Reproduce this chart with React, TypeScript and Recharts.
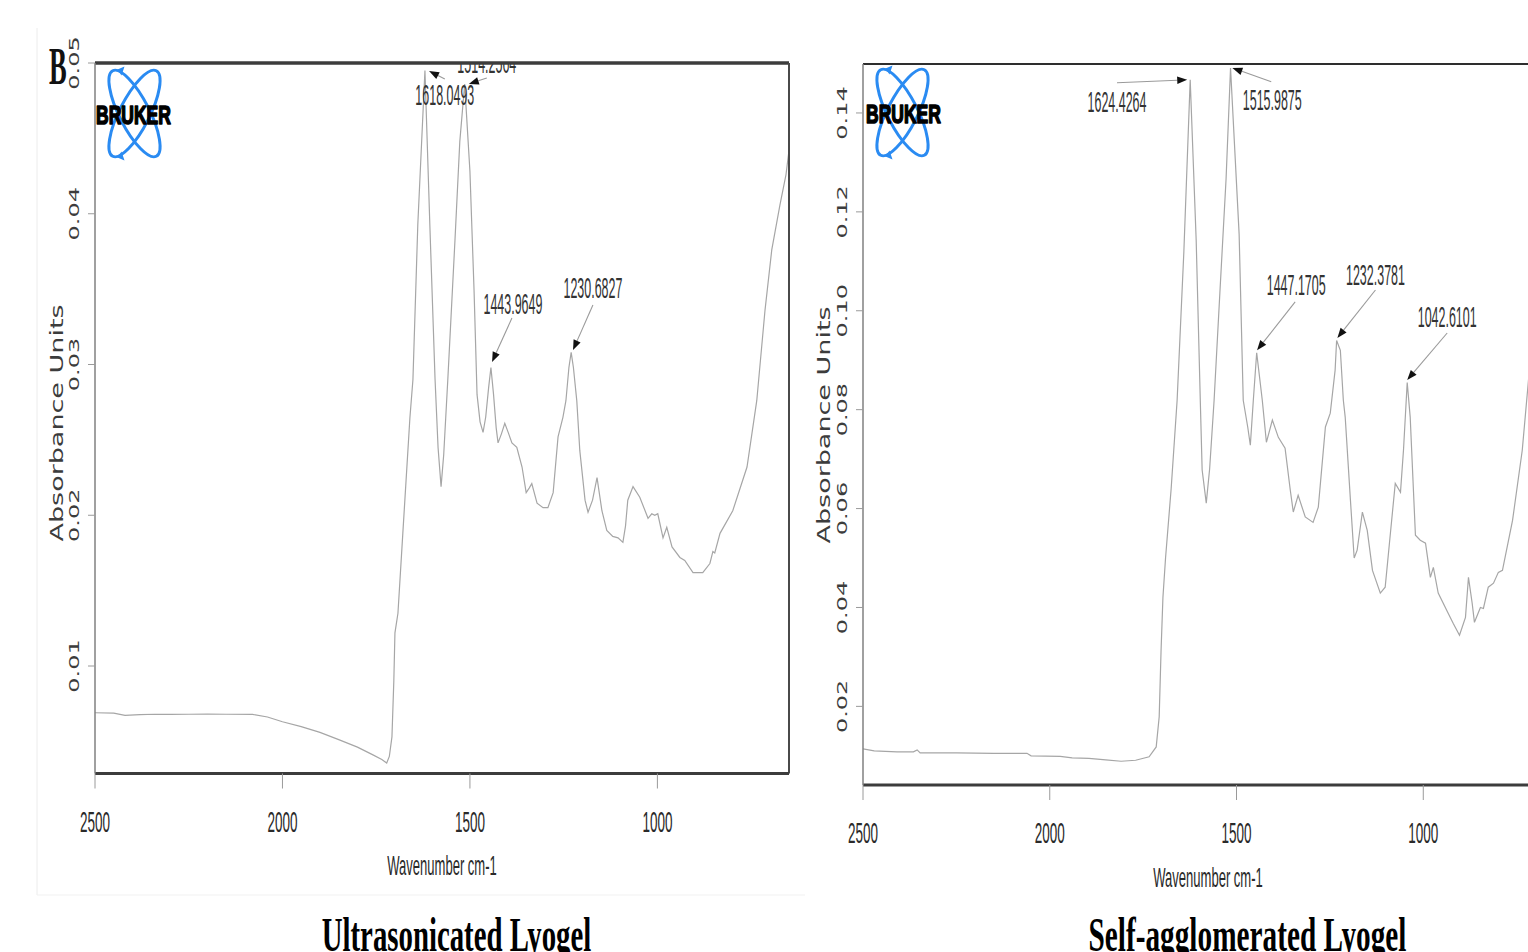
import React from 'react';
import { LineChart, Line, XAxis, YAxis, ReferenceLine } from 'recharts';

// ---------- Ultrasonicated Lyogel (left panel) ----------
const leftWavenumber = [2500, 2450, 2420, 2380, 2340, 2300, 2250, 2200, 2150, 2080, 2040, 2000, 1950, 1900, 1850, 1800, 1760, 1735, 1722, 1715, 1708, 1703, 1700, 1692, 1679, 1660, 1652, 1639, 1620, 1607, 1593, 1585, 1577, 1570, 1559, 1540, 1527, 1514, 1500, 1489, 1481, 1473, 1465, 1458, 1450, 1444, 1437, 1430, 1425, 1416, 1407, 1398, 1388, 1375, 1361, 1350, 1342, 1335, 1321, 1305, 1292, 1278, 1265, 1252, 1244, 1236, 1230, 1224, 1215, 1207, 1193, 1185, 1173, 1161, 1148, 1135, 1119, 1105, 1092, 1085, 1079, 1065, 1047, 1025, 1015, 1007, 999, 985, 975, 961, 940, 927, 905, 879, 860, 852, 847, 833, 799, 761, 735, 713, 695, 673, 657, 649];
const leftAbsorbance = [0.0069, 0.00688, 0.00672, 0.00678, 0.0068, 0.00679, 0.0068, 0.00681, 0.0068, 0.00679, 0.00662, 0.0063, 0.00598, 0.0056, 0.00512, 0.00462, 0.00412, 0.0038, 0.00357, 0.004, 0.0053, 0.009, 0.0122, 0.0135, 0.0188, 0.0265, 0.029, 0.0393, 0.0495, 0.0393, 0.029, 0.0245, 0.0219, 0.024, 0.029, 0.0382, 0.0448, 0.0486, 0.0428, 0.0349, 0.028, 0.0262, 0.0255, 0.0265, 0.0285, 0.0298, 0.028, 0.0258, 0.0248, 0.0254, 0.0261, 0.0255, 0.0248, 0.0245, 0.0232, 0.0215, 0.0218, 0.0221, 0.0208, 0.0205, 0.0205, 0.0215, 0.0252, 0.0265, 0.0276, 0.0298, 0.0308, 0.0298, 0.0276, 0.0243, 0.021, 0.0202, 0.021, 0.0225, 0.0203, 0.019, 0.0186, 0.0185, 0.0182, 0.0193, 0.021, 0.0219, 0.0212, 0.0198, 0.0201, 0.02, 0.0201, 0.0185, 0.0192, 0.0179, 0.0172, 0.017, 0.0162, 0.0162, 0.0168, 0.0176, 0.0175, 0.0188, 0.0203, 0.0232, 0.0276, 0.0336, 0.0376, 0.0406, 0.0426, 0.0442];

// ---------- Self-agglomerated Lyogel (right panel) ----------
const rightWavenumber = [2500, 2470, 2440, 2409, 2365, 2355, 2347, 2250, 2150, 2061, 2050, 1972, 1940, 1895, 1850, 1809, 1770, 1734, 1715, 1707, 1702, 1697, 1690, 1675, 1659, 1641, 1624, 1608, 1597, 1592, 1581, 1572, 1560, 1544, 1528, 1516, 1493, 1482, 1470, 1463, 1455, 1446, 1431, 1420, 1404, 1388, 1370, 1356, 1348, 1335, 1316, 1295, 1281, 1262, 1249, 1236, 1232, 1222, 1214, 1209, 1195, 1185, 1177, 1163, 1150, 1136, 1115, 1102, 1088, 1075, 1061, 1053, 1043, 1035, 1021, 1008, 994, 981, 973, 960, 933, 920, 903, 887, 879, 869, 863, 847, 839, 826, 812, 799, 788, 761, 735, 719, 700];
const rightAbsorbance = [0.0114, 0.011, 0.0109, 0.0108, 0.0108, 0.0112, 0.0106, 0.0106, 0.0105, 0.0105, 0.01, 0.0099, 0.0096, 0.0095, 0.0092, 0.0089, 0.0091, 0.0098, 0.0118, 0.0179, 0.0313, 0.042, 0.05, 0.064, 0.0819, 0.1119, 0.1467, 0.1143, 0.0819, 0.0678, 0.0611, 0.068, 0.0819, 0.1044, 0.1266, 0.1491, 0.1155, 0.0819, 0.0765, 0.0728, 0.0819, 0.0915, 0.0819, 0.0734, 0.0779, 0.0744, 0.0722, 0.0637, 0.0593, 0.0627, 0.0583, 0.0572, 0.0603, 0.0765, 0.0793, 0.088, 0.094, 0.092, 0.0819, 0.0785, 0.0617, 0.05, 0.0516, 0.0593, 0.0556, 0.0475, 0.0429, 0.0441, 0.055, 0.0651, 0.0633, 0.0718, 0.0855, 0.0785, 0.0546, 0.0536, 0.053, 0.0461, 0.0481, 0.0429, 0.0388, 0.0368, 0.0344, 0.038, 0.0461, 0.0408, 0.037, 0.04, 0.0398, 0.0441, 0.0449, 0.0471, 0.0475, 0.0576, 0.0718, 0.0854, 0.101];

// ---------- ticks ----------
const xTicks = [2500, 2000, 1500, 1000];
const leftYTicks = [0.01, 0.02, 0.03, 0.04, 0.05];
const rightYTicks = [0.02, 0.04, 0.06, 0.08, 0.1, 0.12, 0.14];

// ---------- peak annotations ----------
const leftPeakLabels = ['1618.0493', '1514.2564', '1443.9649', '1230.6827'];
const leftPeakTips = [{ x: 1609, y: 0.04947 }, { x: 1503, y: 0.04861 }, { x: 1441, y: 0.03017 }, { x: 1225, y: 0.03096 }];
const leftLabelAnchors = [{ x: 1567, y: 0.04894 }, { x: 1455, y: 0.049 }, { x: 1388, y: 0.03308 }, { x: 1172, y: 0.03395 }];

const rightPeakLabels = ['1624.4264', '1515.9875', '1447.1705', '1232.3781', '1042.6101'];
const rightPeakTips = [{ x: 1632, y: 0.1467 }, { x: 1511, y: 0.1491 }, { x: 1445, y: 0.092 }, { x: 1230, y: 0.0945 }, { x: 1043, y: 0.086 }];
const rightLabelAnchors = [{ x: 1820, y: 0.1461 }, { x: 1407, y: 0.1463 }, { x: 1343, y: 0.1018 }, { x: 1128, y: 0.1042 }, { x: 936, y: 0.0955 }];

// label text offsets (px) from the arrow tail
const leftLabelShift = [[0, 26], [0, -5], [1, -4], [0, -7]];
const rightLabelShift = [[0, 29], [1, 28], [1, -7], [0, -5], [0, -6]];

const zip = (w: number[], a: number[]) => w.map((wn, i) => ({ wn, a: a[i] }));
const leftData = zip(leftWavenumber, leftAbsorbance);
const rightData = zip(rightWavenumber, rightAbsorbance);

const SANS = "'Liberation Sans', Arial, sans-serif";
const SERIF = "'Liberation Serif', 'Times New Roman', serif";
const ROT = "'DejaVu Sans', sans-serif";

function XTick(props: any) {
  const { x, y, payload } = props;
  return (
    <text transform={`translate(${x},${y + 43}) scale(0.45,1)`} textAnchor="middle" fontFamily={SANS} fontSize={30} fill="#2a2a2a">
      {payload.value}
    </text>
  );
}

function YTick(props: any) {
  const { x, y, payload } = props;
  return (
    <text transform={`translate(${x - 7},${y}) rotate(-90) scale(1,0.6)`} textAnchor="middle" fontFamily={ROT} fontSize={24} fill="#3c3c3c">
      {Number(payload.value).toFixed(2)}
    </text>
  );
}

function arrowShape(label: string, dx: number, dy: number) {
  return (p: any) => {
    const { x1, y1, x2, y2, clipPath } = p;
    const ang = Math.atan2(y2 - y1, x2 - x1);
    const c = Math.cos(ang);
    const s = Math.sin(ang);
    const L = 10;
    const W = 3.8;
    const bx = x2 - L * c;
    const by = y2 - L * s;
    return (
      <g clipPath={clipPath}>
        <line x1={x1} y1={y1} x2={bx} y2={by} stroke="#9a9a9a" strokeWidth={1.1} />
        <polygon points={`${x2},${y2} ${bx - W * s},${by + W * c} ${bx + W * s},${by - W * c}`} fill="#111" />
        <text transform={`translate(${x1 + dx},${y1 + dy}) scale(0.43,1)`} textAnchor="middle" fontFamily={SANS} fontSize={29} fill="#333">
          {label}
        </text>
      </g>
    );
  };
}

function BrukerLogo({ cx, cy, textX }: { cx: number; cy: number; textX: number }) {
  return (
    <g>
      <ellipse cx={cx} cy={cy} rx={15} ry={48} transform={`rotate(-27 ${cx} ${cy})`} fill="none" stroke="#2a8bf2" strokeWidth={3} />
      <ellipse cx={cx} cy={cy} rx={15} ry={48} transform={`rotate(27 ${cx} ${cy})`} fill="none" stroke="#2a8bf2" strokeWidth={3} />
      <polygon points={`${cx - 17},${cy - 44} ${cx - 10},${cy - 47} ${cx - 13},${cy - 38}`} fill="#2a8bf2" />
      <polygon points={`${cx - 17},${cy + 44} ${cx - 10},${cy + 47} ${cx - 13},${cy + 38}`} fill="#2a8bf2" />
      <text transform={`translate(${textX + 1},${cy + 10}) scale(0.7,1)`} fontFamily={SANS} fontWeight="bold" fontSize={25}
        fill="#000" stroke="#000" strokeWidth={1.6} strokeLinejoin="round">
        BRUKER
      </text>
    </g>
  );
}

export default function App() {
  return (
    <div style={{ position: 'fixed', left: 0, top: 0, width: 1528, height: 952, overflow: 'hidden', background: '#fff' }}>
      <svg width={1528} height={952} style={{ position: 'absolute', left: 0, top: 0 }}>
        <line x1={37} y1={28} x2={37} y2={895} stroke="#ececec" strokeWidth={1} />
        <line x1={37} y1={895} x2={805} y2={895} stroke="#f1f1f1" strokeWidth={1} />
      </svg>

      <div style={{ position: 'absolute', left: 0, top: 0 }}>
        <LineChart width={810} height={952} data={leftData} margin={{ top: 63, right: 21, bottom: 118.5, left: 35 }}>
          <XAxis dataKey="wn" type="number" domain={[649, 2500]} reversed ticks={xTicks} interval={0} allowDataOverflow
            tickSize={15} tickMargin={0} height={60} axisLine={{ stroke: '#3c3c3c', strokeWidth: 3 }} tickLine={{ stroke: '#9a9a9a' }} tick={XTick} />
          <YAxis type="number" domain={[0.00287, 0.05]} ticks={leftYTicks} interval={0} allowDataOverflow width={60}
            tickSize={7} tickMargin={2} axisLine={{ stroke: '#808080', strokeWidth: 1.5 }} tickLine={{ stroke: '#9a9a9a' }} tick={YTick} />
          <Line dataKey="a" type="linear" stroke="#a6a6a6" strokeWidth={1.2} dot={false} isAnimationActive={false} />
          {leftPeakLabels.map((lab, i) => (
            <ReferenceLine key={lab} segment={[leftLabelAnchors[i], leftPeakTips[i]]} ifOverflow="hidden"
              shape={arrowShape(lab, leftLabelShift[i][0], leftLabelShift[i][1])} />
          ))}
          <ReferenceLine y={0.05} stroke="#3c3c3c" strokeWidth={3.5} ifOverflow="visible" />
          <ReferenceLine x={649} stroke="#4a4a4a" strokeWidth={2} ifOverflow="visible" />
        </LineChart>
      </div>

      <div style={{ position: 'absolute', left: 780, top: 0 }}>
        <LineChart width={800} height={952} data={rightData} margin={{ top: 64, right: 26, bottom: 107, left: 23 }}>
          <XAxis dataKey="wn" type="number" domain={[650, 2500]} reversed ticks={xTicks} interval={0} allowDataOverflow
            tickSize={15} tickMargin={0} height={60} axisLine={{ stroke: '#3c3c3c', strokeWidth: 3 }} tickLine={{ stroke: '#9a9a9a' }} tick={XTick} />
          <YAxis type="number" domain={[0.0041, 0.1499]} ticks={rightYTicks} interval={0} allowDataOverflow width={60}
            tickSize={7} tickMargin={2} axisLine={{ stroke: '#808080', strokeWidth: 1.5 }} tickLine={{ stroke: '#9a9a9a' }} tick={YTick} />
          <Line dataKey="a" type="linear" stroke="#a6a6a6" strokeWidth={1.2} dot={false} isAnimationActive={false} />
          {rightPeakLabels.map((lab, i) => (
            <ReferenceLine key={lab} segment={[rightLabelAnchors[i], rightPeakTips[i]]} ifOverflow="hidden"
              shape={arrowShape(lab, rightLabelShift[i][0], rightLabelShift[i][1])} />
          ))}
          <ReferenceLine y={0.1499} stroke="#2e2e2e" strokeWidth={2} ifOverflow="visible" />
        </LineChart>
      </div>

      <svg width={1528} height={952} style={{ position: 'absolute', left: 0, top: 0, pointerEvents: 'none' }}>
        <text transform="translate(49,84) scale(0.5,1)" fontFamily={SERIF} fontWeight="bold" fontSize={53} fill="#111">B</text>
        <BrukerLogo cx={134.5} cy={113.5} textX={95} />
        <BrukerLogo cx={902.5} cy={112.5} textX={865} />
        <text transform="translate(63,423) rotate(-90) scale(1,0.62)" textAnchor="middle" fontFamily={ROT} fontSize={27} fill="#3c3c3c">Absorbance Units</text>
        <text transform="translate(830,425) rotate(-90) scale(1,0.62)" textAnchor="middle" fontFamily={ROT} fontSize={27} fill="#3c3c3c">Absorbance Units</text>
        <text transform="translate(442,875) scale(0.466,1)" textAnchor="middle" fontFamily={SANS} fontSize={28} fill="#2a2a2a">Wavenumber cm-1</text>
        <text transform="translate(1208,887) scale(0.466,1)" textAnchor="middle" fontFamily={SANS} fontSize={28} fill="#2a2a2a">Wavenumber cm-1</text>
        <text transform="translate(456.5,951) scale(0.6,1)" textAnchor="middle" fontFamily={SERIF} fontWeight="bold" fontSize={48} fill="#000">Ultrasonicated Lyogel</text>
        <text transform="translate(1247.5,951) scale(0.61,1)" textAnchor="middle" fontFamily={SERIF} fontWeight="bold" fontSize={48} fill="#000">Self-agglomerated Lyogel</text>
      </svg>
    </div>
  );
}
